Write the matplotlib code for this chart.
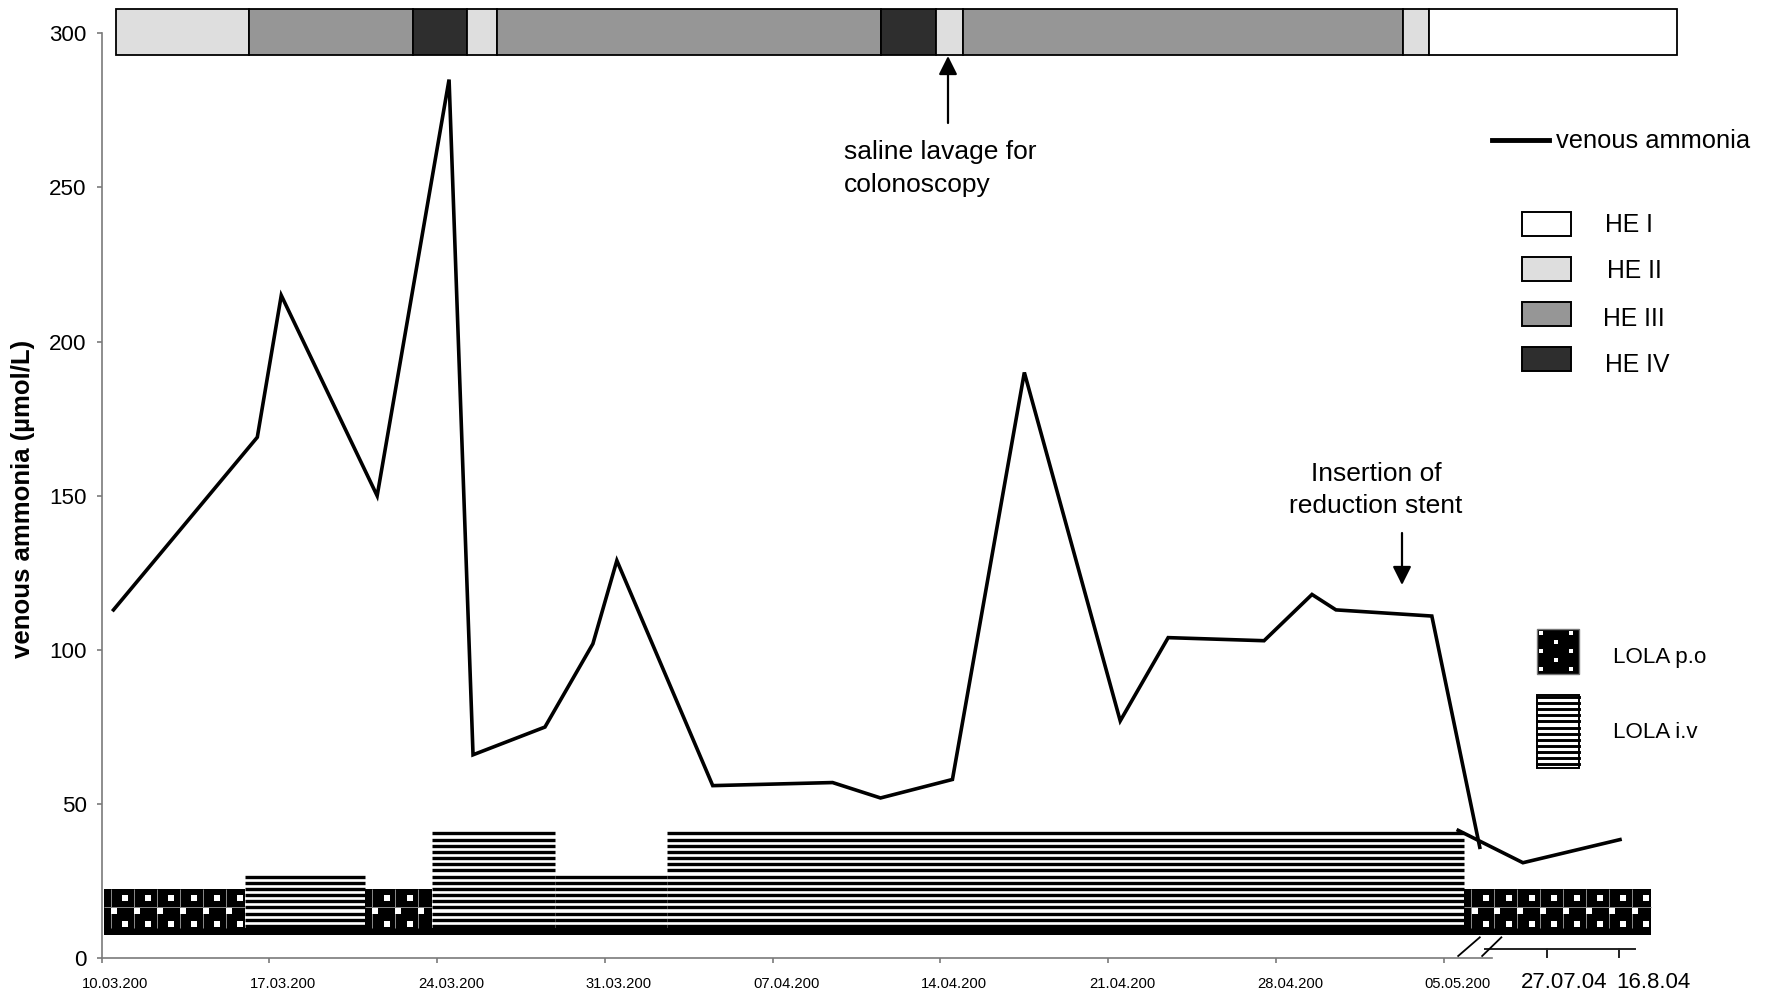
import numpy as np
import matplotlib
matplotlib.use("Agg")
import matplotlib.pyplot as plt
from matplotlib import font_manager
from matplotlib.patches import Rectangle
from matplotlib.lines import Line2D

# ---------------------------------------------------------------- fonts
_names = {f.name for f in font_manager.fontManager.ttflist}
SANS = "Liberation Sans" if "Liberation Sans" in _names else "DejaVu Sans"
NARROW = "Liberation Sans Narrow" if "Liberation Sans Narrow" in _names else SANS
NSCALE = 1.0 if NARROW != SANS else 0.85
plt.rcParams["font.family"] = [SANS, "DejaVu Sans"]

# ---------------------------------------------------------------- data
# venous ammonia (µmol/L), x = days after 10.03.2004
day = [0.5, 6.5, 7.5, 11.5, 14.5, 15.5, 18.5, 20.5, 21.5, 25.5, 30.5,
       32.5, 35.5, 38.5, 42.5, 44.5, 48.5, 50.5, 51.5, 55.5, 57.5]
ammonia = [113, 169, 215, 150, 285, 66, 75, 102, 129, 56, 57,
           52, 58, 190, 77, 104, 103, 118, 113, 111, 36]

# follow-up values behind the axis break
follow_x = [56.6, 59.3, 63.35]
follow_nh3 = [41.5, 31, 38.5]

# hepatic encephalopathy grade per period
he_start = [0.6, 6.17, 12.99, 15.26, 16.49, 32.5, 34.8, 35.94, 54.28, 55.38]
he_end = [6.17, 12.99, 15.26, 16.49, 32.5, 34.8, 35.94, 54.28, 55.38, 65.73]
he_grade = ["II", "III", "IV", "II", "III", "IV", "II", "III", "II", "I"]

# LOLA therapy periods: route and bar height
lola_start = [0.1, 6.0, 11.0, 13.8, 18.9, 23.6, 56.85]
lola_end = [6.0, 11.0, 13.8, 18.9, 23.6, 56.85, 64.65]
lola_route = ["po", "iv", "po", "iv", "iv", "iv", "po"]
lola_level = [22.5, 27, 22.5, 41, 27, 41, 22.5]

tick_days = [0, 7, 14, 21, 28, 35, 42, 49, 56]
tick_labels = ["10.03.200", "17.03.200", "24.03.200", "31.03.200", "07.04.200",
               "14.04.200", "21.04.200", "28.04.200", "05.05.200"]
follow_ticks = [60.3, 63.3]
follow_labels = ["27.07.04", "16.8.04"]

he_colors = {"I": "#ffffff", "II": "#dedede", "III": "#969696", "IV": "#2e2e2e"}
he_order = ["I", "II", "III", "IV"]

# ---------------------------------------------------------------- figure
W, H = 1770, 994
fig = plt.figure(figsize=(W / 100, H / 100), dpi=100)
X0, Y0, Y300 = 101.5, 958.3, 33.3
PX_DAY = 23.97
XMAX = 66
ax = fig.add_axes([X0 / W, (H - Y0) / H, XMAX * PX_DAY / W, (Y0 - Y300) / H])
ax.set_xlim(0, XMAX)
ax.set_ylim(0, 300)
ax.patch.set_visible(False)


def fpx(x, y):
    """pixel position (from top-left) -> figure fraction"""
    return x / W, 1 - y / H


AXC = "#7a7a7a"
ax.spines[["top", "right"]].set_visible(False)
ax.spines["left"].set_bounds(0, 300)
ax.spines["bottom"].set_bounds(0, 58.0)
for s in ("left", "bottom"):
    ax.spines[s].set_color(AXC)
    ax.spines[s].set_linewidth(1.2)
ax.tick_params(axis="both", direction="out", length=3.6, width=1.2, color=AXC)
ax.set_yticks(np.arange(0, 301, 50))
ax.tick_params(axis="y", labelsize=19 * NSCALE, pad=7)
for lab in ax.get_yticklabels():
    lab.set_fontfamily(NARROW)
ax.set_xticks(tick_days)
ax.tick_params(axis="x", labelbottom=False)
for d, t in zip(tick_days, tick_labels):
    ax.text(d + 0.58, -8.2, t, ha="center", va="center",
            fontsize=12.5 * NSCALE, family=NARROW)

# axis break and follow-up axis segment
for xs in ((56.6, 57.5), (57.6, 58.4)):
    ax.plot(xs, (0.75, 6.8), color="black", lw=1.3, clip_on=False, zorder=3)
ax.plot([57.71, 63.97], [3.0, 3.0], color="#222222", lw=1.4, clip_on=False)
for d in follow_ticks:
    ax.plot([d, d], [3.0, 0.4], color="#222222", lw=1.4, clip_on=False)
for x, t in zip([61.0, 64.75], follow_labels):
    ax.text(x, -7.7, t, ha="center", va="center", fontsize=16)

fig.text(*fpx(22.6, 499), "venous ammonia (µmol/L)", rotation=90,
         ha="center", va="center", fontsize=18.5, fontweight="bold")

# ---------------------------------------------------------------- HE bar
for s, e, g in zip(he_start, he_end, he_grade):
    ax.add_patch(Rectangle((s, 292.9), e - s, 14.9, fc=he_colors[g],
                           ec="black", lw=1.3, clip_on=False, zorder=3))

# ---------------------------------------------------------------- LOLA bars
BASE_LO, BASE_HI = 7.4, 9.7


def dotted(x0, x1, top):
    ax.add_patch(Rectangle((x0, BASE_LO), x1 - x0, top - BASE_LO,
                           fc="black", ec="none", zorder=2))
    lines = np.arange(x0 + 0.3, x1, 0.955)
    ax.vlines(lines, BASE_HI, top, colors="#8a8a8a", lw=0.7, zorder=2.1)
    ax.hlines(16.5, x0, x1, colors="#8a8a8a", lw=0.7, zorder=2.1)
    mid = lines + 0.13
    side = lines + 0.6
    side = side[side < x1 - 0.08]
    mid = mid[mid < x1 - 0.08]
    ax.scatter(mid, np.full(len(mid), 15.4), marker="s", s=17, c="white",
               linewidths=0, zorder=2.2)
    for yv in (19.7, 11.2):
        ax.scatter(side, np.full(len(side), yv), marker="s", s=17, c="white",
                   linewidths=0, zorder=2.2)


def striped(x0, x1, top):
    levels = np.arange(top - 0.5, BASE_HI, -2.0)
    ax.hlines(levels, x0, x1, colors="black", lw=2.4, zorder=2)


ax.add_patch(Rectangle((lola_start[0], BASE_LO), lola_end[-1] - lola_start[0],
                       BASE_HI - BASE_LO, fc="black", ec="none", zorder=2))
for s, e, r, lv in zip(lola_start, lola_end, lola_route, lola_level):
    if r == "po":
        dotted(s, e, lv)
    else:
        striped(s, e, lv)

# ---------------------------------------------------------------- ammonia
ax.plot(day, ammonia, color="black", lw=2.6, zorder=4,
        solid_joinstyle="miter")
ax.plot(follow_x, follow_nh3, color="black", lw=2.6, zorder=4,
        solid_joinstyle="miter", clip_on=False)

# ---------------------------------------------------------------- annotations
arrow = dict(arrowstyle="-|>,head_length=0.4,head_width=0.2", color="black",
             lw=1.6, mutation_scale=28, shrinkA=0, shrinkB=0)
ax.annotate("", xy=fpx(948, 56), xycoords="figure fraction",
            xytext=fpx(948, 123), textcoords="figure fraction",
            arrowprops=arrow)
fig.text(*fpx(844, 152), "saline lavage for", ha="left", va="center",
         fontsize=19)
fig.text(*fpx(844, 185), "colonoscopy", ha="left", va="center", fontsize=19)

ax.annotate("", xy=fpx(1402, 585), xycoords="figure fraction",
            xytext=fpx(1402, 533), textcoords="figure fraction",
            arrowprops=arrow)
fig.text(*fpx(1376, 474), "Insertion of", ha="center", va="center",
         fontsize=19)
fig.text(*fpx(1376, 506), "reduction stent", ha="center", va="center",
         fontsize=19)

# ---------------------------------------------------------------- legends
fig.add_artist(Line2D([1492 / W, 1549 / W], [1 - 140 / H] * 2, color="black",
                      lw=3.5, transform=fig.transFigure))
fig.text(*fpx(1556, 141), "venous ammonia", ha="left", va="center",
         fontsize=18.4)

box_top = [212, 257, 302, 347]
label_pos = [(1605, 225), (1607, 271), (1603, 319), (1605, 365)]
for g, yt, (lx, ly) in zip(he_order, box_top, label_pos):
    x, y = fpx(1522, yt + 23.5)
    fig.add_artist(Rectangle((x, y), 49 / W, 23.5 / H, fc=he_colors[g],
                             ec="black", lw=1.4, transform=fig.transFigure))
    fig.text(*fpx(lx, ly), "HE " + g, ha="left", va="center", fontsize=17.8)

# LOLA p.o key
x, y = fpx(1537, 674)
fig.add_artist(Rectangle((x, y), 41.5 / W, 45.5 / H, fc="black", ec="#777777",
                         lw=1.0, transform=fig.transFigure))
for k, yy in enumerate([633, 642, 651, 660, 669]):
    xs = [1541, 1571] if k % 2 == 0 else [1556]
    for xx in xs:
        fig.add_artist(Rectangle(fpx(xx - 2.2, yy + 2.2), 4.4 / W, 4.4 / H,
                                 fc="white", ec="none",
                                 transform=fig.transFigure))
fig.text(*fpx(1613, 658), "LOLA p.o", ha="left", va="center",
         fontsize=19 * NSCALE, family=NARROW)

# LOLA i.v key
x, y = fpx(1537, 768)
fig.add_artist(Rectangle((x, y), 41.5 / W, 73 / H, fc="white", ec="black",
                         lw=1.4, transform=fig.transFigure))
for yy in np.arange(697, 767, 6.1):
    fig.add_artist(Line2D([1537 / W, 1578.5 / W], [1 - yy / H] * 2,
                          color="black", lw=2.1, transform=fig.transFigure))
fig.text(*fpx(1613, 733), "LOLA i.v", ha="left", va="center",
         fontsize=19 * NSCALE, family=NARROW)

fig.savefig("out.png", dpi=100, facecolor="white")
